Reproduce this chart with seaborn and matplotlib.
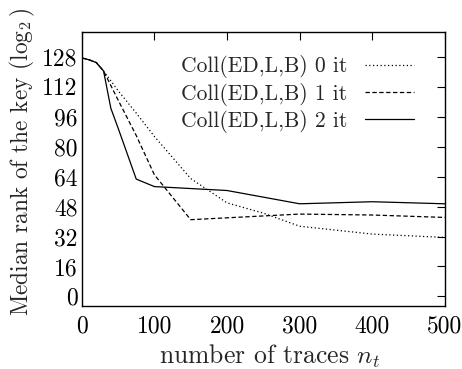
import matplotlib
matplotlib.use("Agg")
import matplotlib.pyplot as plt
import seaborn as sns
import pandas as pd

traces_0 = [0, 10, 20, 30, 50, 75, 100, 150, 200, 250, 300, 400, 500]
rank_0 = [127.5, 126.5, 125, 120.5, 110, 98, 85.5, 63, 50, 44.5, 37.5, 33.3, 31.5]
traces_1 = [0, 10, 20, 30, 50, 75, 100, 150, 200, 300, 400, 500]
rank_1 = [127.5, 126.5, 125, 120.5, 105, 86, 65, 41, 42, 44, 43.5, 42.2]
traces_2 = [0, 10, 20, 30, 40, 50, 75, 100, 200, 300, 400, 500]
rank_2 = [127.5, 126.5, 125, 120.5, 100.6, 90, 62.7, 58.7, 56.6, 49.5, 50.6, 49.5]
labels = ["Coll(ED,L,B) 0 it", "Coll(ED,L,B) 1 it", "Coll(ED,L,B) 2 it"]
xticks = [0, 100, 200, 300, 400, 500]
yticks = [0, 16, 32, 48, 64, 80, 96, 112, 128]

sns.set_theme(style="white")
plt.rcParams["font.family"] = ["cmr10", "DejaVu Serif"]
plt.rcParams["mathtext.fontset"] = "cm"
plt.rcParams["axes.formatter.use_mathtext"] = False

df = pd.concat([
    pd.DataFrame({"x": traces_0, "y": rank_0, "s": labels[0]}),
    pd.DataFrame({"x": traces_1, "y": rank_1, "s": labels[1]}),
    pd.DataFrame({"x": traces_2, "y": rank_2, "s": labels[2]}),
])

fig = plt.figure(figsize=(4.62, 3.69), dpi=100)
ax = fig.add_axes([0.177, 0.1715, 0.786, 0.7415])
styles = [(0, (1, 2)), (0, (3.5, 2)), "-"]
for lab, ls in zip(labels, styles):
    sub = df[df["s"] == lab]
    sns.lineplot(data=sub, x="x", y="y", ax=ax, color="black", lw=0.9,
                 linestyle=ls, label=lab)

ax.set_xlim(0, 500)
ax.set_ylim(-5, 141.3)
ax.set_xticks(xticks)
ax.set_yticks(yticks)
ax.set_xticklabels([str(v) for v in xticks])
ax.set_yticklabels([str(v) for v in yticks])
ax.tick_params(direction="in", length=6, width=0.8, top=True, right=True,
               labelsize=17, colors="black")
ax.tick_params(axis="y", pad=3)
ax.tick_params(axis="x", pad=7)
for sp in ax.spines.values():
    sp.set_color("black")
    sp.set_linewidth(1.0)
ax.set_xlabel(r"number of traces $n_t$", fontsize=18.5, labelpad=4)
ax.xaxis.label.set_x(0.518)
ax.set_ylabel(r"Median rank of the key ($\log_2$)", fontsize=16.8)
ax.yaxis.set_label_coords(-0.122, 0.525)
leg = ax.legend(loc="upper right", bbox_to_anchor=(0.915, 0.915), frameon=False,
                markerfirst=False, fontsize=15.5, handlelength=2.3,
                labelspacing=0.2, handletextpad=0.8, borderpad=0,
                borderaxespad=0)
fig.savefig("out.png", dpi=100)
